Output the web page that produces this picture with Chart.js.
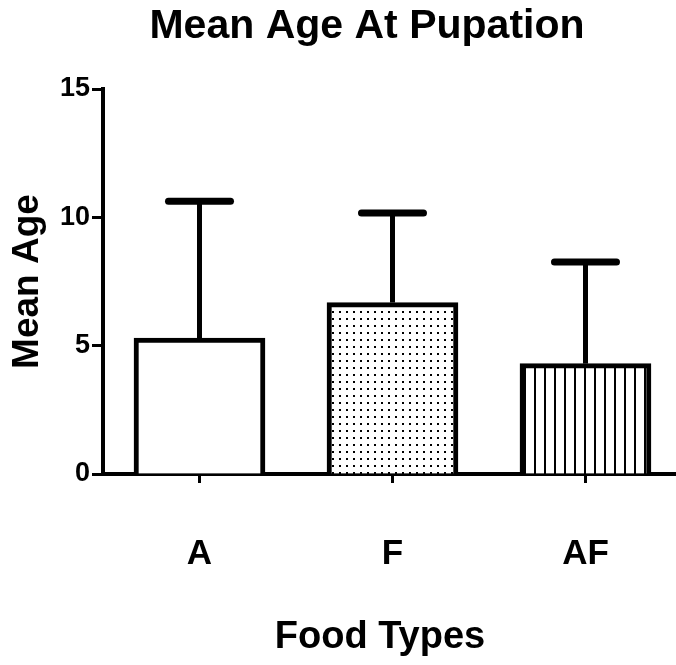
<!DOCTYPE html>
<html lang="en">
<head>
  <meta charset="UTF-8">
  <title>Mean Age At Pupation</title>
  <script src="https://cdn.jsdelivr.net/npm/chart.js"></script>
  <style>
    body {
      margin: 0;
      background: #fff;
    }
    canvas {
      display: block;
    }
  </style>
</head>
<body>
  <canvas id="chart" width="676" height="665"></canvas>
  <script>
  // data
  const foodTypes = ["A", "F", "AF"];
  const meanAge = [5.3, 6.68, 4.3];
  const ageError = [5.33, 3.49, 3.96];
  const yTicks = [0, 5, 10, 15];

  const FONT = "'Liberation Sans', Arial, sans-serif";

  // fill patterns: plain, dots, vertical stripes
  function dotPattern() {
    const c = document.createElement("canvas");
    c.width = 7; c.height = 7;
    const g = c.getContext("2d");
    g.fillStyle = "#fff";
    g.fillRect(0, 0, 7, 7);
    g.fillStyle = "#000";
    g.fillRect(3, 3, 2, 2);
    return g.createPattern(c, "repeat");
  }

  function stripePattern() {
    const c = document.createElement("canvas");
    c.width = 10; c.height = 4;
    const g = c.getContext("2d");
    g.fillStyle = "#fff";
    g.fillRect(0, 0, 10, 4);
    g.fillStyle = "#000";
    g.fillRect(4, 0, 2, 4);
    return g.createPattern(c, "repeat");
  }

  const fills = ["#ffffff", dotPattern(), stripePattern()];

  // error bars (upper only) drawn from the scales
  const errorBars = {
    id: "errorBars",
    afterDatasetsDraw(chart) {
      const ctx = chart.ctx;
      const xs = chart.scales.x, ys = chart.scales.y;
      ctx.save();
      ctx.strokeStyle = "#000";
      meanAge.forEach((m, i) => {
        const x = xs.getPixelForValue(i);
        const y0 = ys.getPixelForValue(m);
        const y1 = ys.getPixelForValue(m + ageError[i]);
        ctx.lineWidth = 5;
        ctx.lineCap = "butt";
        ctx.beginPath();
        ctx.moveTo(x, y0);
        ctx.lineTo(x, y1);
        ctx.stroke();
        ctx.lineWidth = 7;
        ctx.lineCap = "round";
        ctx.beginPath();
        ctx.moveTo(x - 31, y1);
        ctx.lineTo(x + 31, y1);
        ctx.stroke();
      });
      ctx.restore();
    }
  };

  // chart title and x axis title
  const titles = {
    id: "titles",
    afterDraw(chart) {
      const ctx = chart.ctx;
      ctx.save();
      ctx.fillStyle = "#000";
      ctx.textAlign = "center";
      ctx.textBaseline = "middle";
      ctx.font = "bold 41px " + FONT;
      ctx.fillText("Mean Age At Pupation", 367, 27);
      ctx.font = "bold 38px " + FONT;
      ctx.fillText("Food Types", 380, 638);
      ctx.restore();
    }
  };

  new Chart(document.getElementById("chart"), {
    type: "bar",
    data: {
      datasets: [{
        data: meanAge.map((v, i) => ({ x: i, y: v })),
        backgroundColor: fills,
        borderColor: "#000",
        borderWidth: 5,
        barThickness: 131
      }]
    },
    options: {
      responsive: false,
      animation: false,
      layout: { padding: { top: 89, left: 0, right: 0, bottom: 0 } },
      plugins: {
        legend: { display: false },
        tooltip: { enabled: false },
        title: { display: false }
      },
      scales: {
        x: {
          type: "linear",
          offset: false,
          min: -0.5,
          max: 2.469,
          afterBuildTicks: s => { s.ticks = foodTypes.map((_, i) => ({ value: i })); },
          afterFit: s => { s.height = 191; },
          grid: {
            offset: false,
            drawOnChartArea: false,
            tickLength: 9,
            tickWidth: 3,
            tickColor: "#000"
          },
          border: { display: true, color: "#000", width: 4 },
          ticks: {
            callback: v => foodTypes[v],
            color: "#000",
            padding: 50,
            maxRotation: 0,
            font: { family: FONT, size: 35, weight: "bold" }
          }
        },
        y: {
          min: 0,
          max: 15,
          afterBuildTicks: s => { s.ticks = yTicks.map(v => ({ value: v })); },
          afterFit: s => { s.width = 103; },
          grid: {
            drawOnChartArea: false,
            tickLength: 11,
            tickWidth: 3,
            tickColor: "#000"
          },
          border: { display: true, color: "#000", width: 4 },
          ticks: {
            color: "#000",
            padding: 2,
            font: { family: FONT, size: 27, weight: "bold" }
          },
          title: {
            display: true,
            text: "Mean Age",
            color: "#000",
            padding: { top: 6, bottom: 0 },
            font: { family: FONT, size: 37, weight: "bold" }
          }
        }
      }
    },
    plugins: [errorBars, titles]
  });
  </script>
</body>
</html>
